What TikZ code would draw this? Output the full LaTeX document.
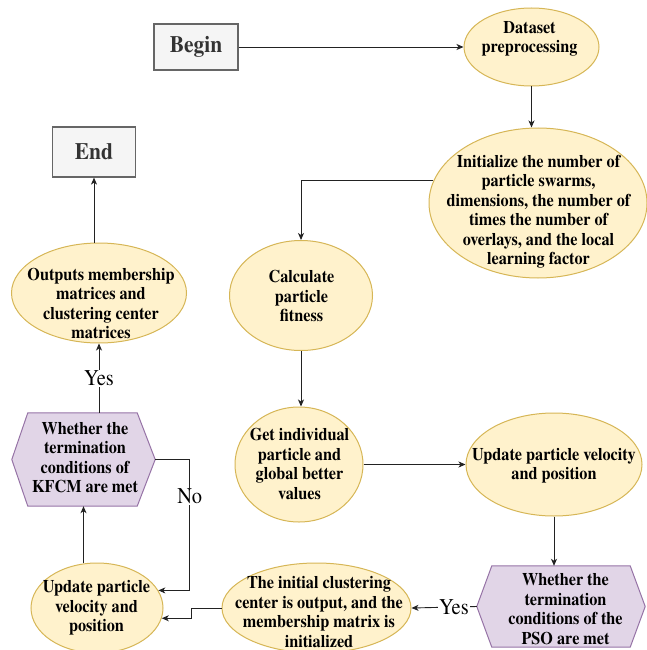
\documentclass[tikz,border=0pt]{standalone}
\usepackage{fontspec}
\setmainfont{texgyretermes}[Extension=.otf, UprightFont=*-regular, BoldFont=*-bold, FakeStretch=0.91]
\usetikzlibrary{arrows.meta,calc,shapes.geometric}
\definecolor{ylfill}{HTML}{FFF2CC}
\definecolor{yldraw}{HTML}{D6B656}
\definecolor{pufill}{HTML}{E1D5E7}
\definecolor{pudraw}{HTML}{9673A6}
\definecolor{gyfill}{HTML}{F5F5F5}
\definecolor{gydraw}{HTML}{666666}
\definecolor{gytext}{HTML}{333333}
\definecolor{edgecol}{HTML}{222222}
\tikzset{
  oval/.style={ellipse, draw=yldraw, fill=ylfill, line width=1pt, inner sep=0pt},
  hexbox/.style={draw=none, inner sep=0pt},
  hexline/.style={draw=pudraw, fill=pufill, line width=1pt},
  termbox/.style={rectangle, draw=gydraw, fill=gyfill, line width=1.2pt, inner sep=0pt,
    text=gytext, font=\fontsize{23.5}{26}\selectfont\bfseries},
  txt/.style={align=center, inner sep=0pt, font=\fontsize{17.8}{19.5}\selectfont\bfseries},
  conn/.style={draw=edgecol, line width=0.9pt, -{Stealth[length=7pt,width=6pt,inset=2pt]}},
  lab/.style={fill=white, inner sep=1pt, font=\fontsize{22.5}{24}\selectfont}
}
\begin{document}
\begin{tikzpicture}[x=1pt,y=-1pt]
\useasboundingbox (0,0) rectangle (646,650);

% shapes
\node[termbox, minimum width=84pt, minimum height=46pt] (begin) at (196,47) {Begin};
\node[termbox, minimum width=83pt, minimum height=50pt] (end) at (94,152) {End};

\node[oval, minimum width=135pt, minimum height=78pt] (data) at (531.5,47) {};
\node[oval, minimum width=218pt, minimum height=150pt] (init) at (538,203) {};
\node[oval, minimum width=143pt, minimum height=110pt] (calc) at (301,295.5) {};
\node[oval, minimum width=175pt, minimum height=100pt] (outp) at (99,293) {};
\node[oval, minimum width=128pt, minimum height=115pt] (get) at (299,464.5) {};
\node[oval, minimum width=176pt, minimum height=103pt] (updr) at (554,464.5) {};
\node[oval, minimum width=132pt, minimum height=90pt] (upl) at (97,608) {};
\node[oval, minimum width=189pt, minimum height=90pt] (initc) at (316.5,608) {};

\node[hexbox, minimum width=143pt, minimum height=93pt] (kfcm) at (83.5,459.5) {};
\draw[hexline] ($(kfcm.north west)+(16,0)$) -- ($(kfcm.north east)+(-18,0)$) -- (kfcm.east)
  -- ($(kfcm.south east)+(-18,0)$) -- ($(kfcm.south west)+(16,0)$) -- (kfcm.west) -- cycle;
\node[hexbox, minimum width=168pt, minimum height=81pt] (pso) at (561,606.5) {};
\draw[hexline] ($(pso.north west)+(15,0)$) -- ($(pso.north east)+(-15,0)$) -- (pso.east)
  -- ($(pso.south east)+(-15,0)$) -- ($(pso.south west)+(15,0)$) -- (pso.west) -- cycle;

% texts
\node[txt] (data-t) at (529.5,39) {Dataset\\preprocessing};
\node[txt] (init-t) at (538.5,211.5) {Initialize the number of\\particle swarms,\\dimensions, the number of\\times the number of\\overlays, and the local\\learning factor};
\node[txt] (calc-t) at (301.5,296) {Calculate\\particle\\fitness};
\node[txt] (outp-t) at (101,303.5) {Outputs membership\\matrices and\\clustering center\\matrices};
\node[txt] (get-t) at (299.5,464) {Get individual\\particle and\\global better\\values};
\node[txt] (updr-t) at (554,465.5) {Update particle velocity\\and position};
\node[txt] (kfcm-t) at (85,457.5) {Whether the\\termination\\conditions of\\KFCM are met};
\node[txt] (pso-t) at (565.5,609) {Whether the\\termination\\conditions of the\\PSO are met};
\node[txt] (upl-t) at (96.5,608) {Update particle\\velocity and\\position};
\node[txt] (initc-t) at (319,612) {The initial clustering\\center is output, and the\\membership matrix is\\initialized};

% connectors
\draw[conn] (begin.east) -- (data.west);
\draw[conn] (data.south) -- (data.south |- init.north);
\draw[conn] (init.168.7) -| (calc.north);
\draw[conn] (calc.south) -- (calc.south |- get.north);
\draw[conn] (get.east) -- (updr.west);
\draw[conn] (updr.south) -- (updr.south |- pso.north);
\draw[conn] (pso.west) -- node[lab, pos=0.35] (yes2) {Yes} (initc.east);
\draw[conn] (initc.west) -- ++(-30.5,0) |- (upl.-9.75);
\draw[conn] (upl.north -| kfcm.south) -- (kfcm.south);
\draw[conn] (kfcm.east) -- ++(34.5,0) |- node[lab, pos=0.14] (no) {No} (upl.16);
\draw[conn] (kfcm.north -| outp.south) -- node[lab, pos=0.5] (yes1) {Yes} (outp.south);
\draw[conn] (outp.north -| end.south) -- (end.south);
\end{tikzpicture}
\end{document}
